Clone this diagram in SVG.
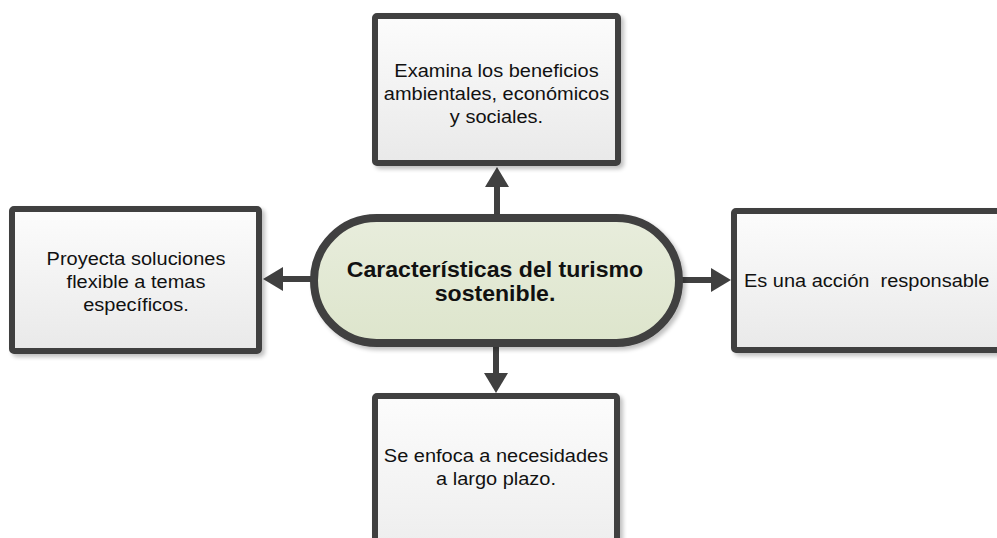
<svg xmlns="http://www.w3.org/2000/svg" width="997" height="538" viewBox="0 0 997 538">
<defs>
<linearGradient id="gBox" x1="0" y1="0" x2="0" y2="1">
<stop offset="0" stop-color="#fcfcfc"/>
<stop offset="1" stop-color="#e9e9e9"/>
</linearGradient>
<linearGradient id="gMain" x1="0" y1="0" x2="0" y2="1">
<stop offset="0" stop-color="#e8eddc"/>
<stop offset="1" stop-color="#dde5cc"/>
</linearGradient>
<filter id="sh" x="-10%" y="-10%" width="130%" height="130%">
<feGaussianBlur in="SourceAlpha" stdDeviation="2"/>
<feOffset dx="3" dy="3" result="b"/>
<feComponentTransfer><feFuncA type="linear" slope="0.25"/></feComponentTransfer>
<feMerge><feMergeNode/><feMergeNode in="SourceGraphic"/></feMerge>
</filter>
<marker id="ah" viewBox="0 0 20 24" refX="3" refY="12" markerWidth="20" markerHeight="24" markerUnits="userSpaceOnUse" orient="auto">
<path d="M0,0 L20,12 L0,24 Z" fill="#404040"/>
</marker>
</defs>
<style>
.box{fill:url(#gBox);stroke:#404040;stroke-width:6;filter:url(#sh)}
.main{fill:url(#gMain);stroke:#404040;stroke-width:8;filter:url(#sh)}
.t{font-family:"Liberation Sans",Arial,sans-serif;font-size:18.5px;fill:#111;text-anchor:middle}
.tb{font-family:"Liberation Sans",Arial,sans-serif;font-size:22px;font-weight:bold;fill:#111;text-anchor:middle}
.c{stroke:#404040;stroke-width:6;fill:none;marker-end:url(#ah)}
</style>
<rect width="997" height="538" fill="#ffffff"/>
<g id="connectors">
<line class="c" x1="497" y1="218" x2="497" y2="184"/>
<line class="c" x1="496" y1="343" x2="496" y2="376"/>
<line class="c" x1="314" y1="279" x2="280" y2="279"/>
<line class="c" x1="679" y1="280" x2="714" y2="280"/>
</g>
<g id="node-top">
<rect class="box" x="375" y="16" width="243" height="147" rx="2"/>
<text class="t" transform="translate(496.5,77) scale(1.08,1)">Examina los beneficios</text>
<text class="t" transform="translate(496.5,100) scale(1.08,1)">ambientales, económicos</text>
<text class="t" transform="translate(496.5,123) scale(1.08,1)">y sociales.</text>
</g>
<g id="node-left">
<rect class="box" x="12" y="209" width="247" height="142" rx="2"/>
<text class="t" transform="translate(136,265) scale(1.08,1)">Proyecta soluciones</text>
<text class="t" transform="translate(136,288) scale(1.08,1)">flexible a temas</text>
<text class="t" transform="translate(136,311) scale(1.08,1)">específicos.</text>
</g>
<g id="node-right">
<rect class="box" x="734" y="211" width="300" height="139" rx="2"/>
<text class="t" style="text-anchor:start" transform="translate(744,287) scale(1.08,1)" xml:space="preserve">Es una acción  responsable</text>
</g>
<g id="node-bottom">
<rect class="box" x="375" y="396" width="242" height="200" rx="2"/>
<text class="t" transform="translate(496,462) scale(1.08,1)">Se enfoca a necesidades</text>
<text class="t" transform="translate(496,485) scale(1.08,1)">a largo plazo.</text>
</g>
<g id="node-center">
<rect class="main" x="314" y="218" width="365" height="125" rx="62.5"/>
<text class="tb" transform="translate(495,277) scale(1.05,1)">Características del turismo</text>
<text class="tb" transform="translate(495,301) scale(1.05,1)">sostenible.</text>
</g>
</svg>
